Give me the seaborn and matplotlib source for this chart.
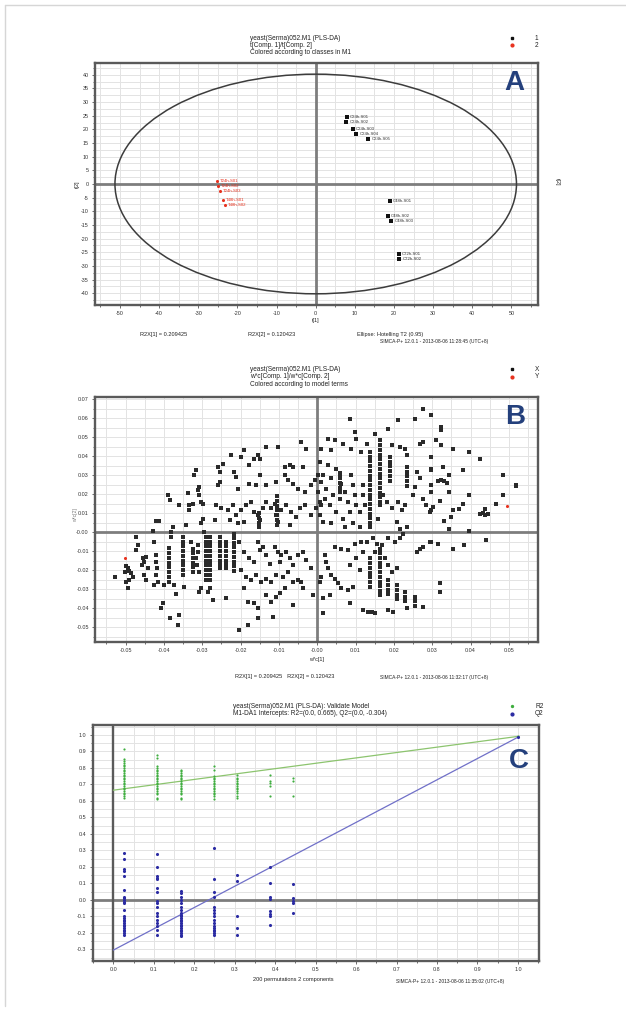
import numpy as np
import pandas as pd
import matplotlib
matplotlib.use("Agg")
import matplotlib.pyplot as plt
from matplotlib.patches import Ellipse
from matplotlib.lines import Line2D
from matplotlib.ticker import MultipleLocator, FormatStrFormatter
import seaborn as sns

sns.set_theme(style="white")
plt.rcParams['font.family'] = ['Liberation Sans', 'DejaVu Sans']

# ---------------- Panel A data (scores t[1] / t[2]) ----------------
A_class1_x = [8.0, 7.8, 9.5, 10.4, 13.4, 18.9, 18.5, 19.3, 21.2, 21.4]
A_class1_y = [24.4, 22.6, 20.2, 18.4, 16.6, -6.2, -11.6, -13.4, -25.6, -27.4]
A_class1_names = ["C24h-S01", "C24h-S02", "C24h-S03", "C24h-S04", "C24h-S05",
                  "C48h-S01", "C48h-S02", "C48h-S03", "C72h-S01", "C72h-S02"]
A_class2_x = [-25.2, -25.0, -24.5, -23.7, -23.2]
A_class2_y = [1.2, -0.6, -2.4, -5.9, -7.7]
A_class2_names = ["T24h-S01", "T24h-S02", "T24h-S03", "T48h-S01", "T48h-S02"]
A_ellipse_rx = 51.3
A_ellipse_ry = 40.2

# ---------------- Panel B data (loadings w*c[1] / w*c[2]) ----------------
B_left = [(-0.0527, -0.0235), (-0.0499, -0.0177), (-0.0495, -0.0191), (-0.0490, -0.0205),
          (-0.0501, -0.0209), (-0.0486, -0.0217), (-0.0482, -0.0235), (-0.0492, -0.0252),
          (-0.0499, -0.0261), (-0.0495, -0.0293), (-0.0473, -0.0024), (-0.0469, -0.0068),
          (-0.0473, -0.0095), (-0.0456, -0.0138), (-0.0451, -0.0156), (-0.0447, -0.0130),
          (-0.0457, -0.0174), (-0.0442, -0.0191), (-0.0451, -0.0226), (-0.0447, -0.0252),
          (-0.0429, 0.0005), (-0.0421, 0.0058), (-0.0412, 0.0058), (-0.0425, -0.0051),
          (-0.0422, -0.0121), (-0.0421, -0.0156), (-0.0419, -0.0191), (-0.0422, -0.0226),
          (-0.0425, -0.0279), (-0.0416, -0.0261), (-0.0408, -0.0402), (-0.0403, -0.0375),
          (-0.0399, -0.0279), (-0.0390, 0.0195), (-0.0384, 0.0168), (-0.0377, 0.0028),
          (-0.0382, 0.0002), (-0.0382, -0.0024), (-0.0384, -0.0454), (-0.0364, -0.0489),
          (-0.0360, -0.0437), (-0.0373, -0.0279), (-0.0369, -0.0328), (-0.0360, 0.0142),
          (-0.0347, -0.0288), (-0.0342, 0.0037), (-0.0338, 0.0204), (-0.0334, 0.0142),
          (-0.0334, 0.0116), (-0.0325, 0.0151), (-0.0321, 0.0300), (-0.0316, 0.0326),
          (-0.0329, -0.0051), (-0.0316, -0.0138), (-0.0312, -0.0103), (-0.0312, -0.0068),
          (-0.0315, -0.0174), (-0.0309, -0.0209), (-0.0312, 0.0221), (-0.0308, 0.0239),
          (-0.0308, 0.0195), (-0.0303, 0.0160), (-0.0299, 0.0151), (-0.0303, 0.0046),
          (-0.0299, 0.0072), (-0.0309, -0.0314), (-0.0303, -0.0296), (-0.0286, -0.0314),
          (-0.0295, 0.0002)]
B_midleft = [(-0.0259, 0.0344), (-0.0255, 0.0318), (-0.0255, 0.0265), (-0.0259, 0.0247),
             (-0.0246, 0.0361), (-0.0224, 0.0405), (-0.0216, 0.0318), (-0.0211, 0.0291),
             (-0.0198, 0.0397), (-0.0190, 0.0432), (-0.0177, 0.0353), (-0.0164, 0.0388),
             (-0.0155, 0.0405), (-0.0150, 0.0388), (-0.0133, 0.0449), (-0.0103, 0.0449),
             (-0.0150, 0.0300), (-0.0207, 0.0230), (-0.0177, 0.0256), (-0.0159, 0.0247),
             (-0.0133, 0.0247), (-0.0107, 0.0265), (-0.0085, 0.0344), (-0.0072, 0.0353),
             (-0.0063, 0.0344), (-0.0037, 0.0344), (-0.0042, 0.0475), (-0.0029, 0.0440),
             (-0.0085, 0.0300), (-0.0077, 0.0274), (-0.0063, 0.0256), (-0.0050, 0.0230),
             (-0.0033, 0.0212), (-0.0016, 0.0247), (-0.0007, 0.0274), (0.0002, 0.0300),
             (0.0011, 0.0265), (-0.0264, 0.0142), (-0.0251, 0.0125), (-0.0233, 0.0116),
             (-0.0220, 0.0142), (-0.0211, 0.0090), (-0.0198, 0.0116), (-0.0185, 0.0142),
             (-0.0172, 0.0160), (-0.0164, 0.0107), (-0.0155, 0.0090), (-0.0150, 0.0063),
             (-0.0142, 0.0125), (-0.0133, 0.0160), (-0.0120, 0.0125), (-0.0111, 0.0151),
             (-0.0107, 0.0090), (-0.0103, 0.0054), (-0.0094, 0.0116), (-0.0081, 0.0142),
             (-0.0068, 0.0107), (-0.0055, 0.0081), (-0.0046, 0.0125), (-0.0033, 0.0142),
             (-0.0016, 0.0090), (-0.0003, 0.0125), (0.0006, 0.0160), (-0.0268, 0.0063),
             (-0.0229, 0.0063), (-0.0207, 0.0046), (-0.0190, 0.0054), (-0.0072, 0.0037)]
B_midleft_low = [(-0.0203, -0.0051), (-0.0190, -0.0103), (-0.0177, -0.0138), (-0.0164, -0.0156),
                 (-0.0155, -0.0051), (-0.0150, -0.0095), (-0.0142, -0.0077), (-0.0133, -0.0121),
                 (-0.0124, -0.0165), (-0.0111, -0.0077), (-0.0103, -0.0103), (-0.0098, -0.0156),
                 (-0.0094, -0.0121), (-0.0081, -0.0103), (-0.0072, -0.0138), (-0.0063, -0.0174),
                 (-0.0050, -0.0121), (-0.0037, -0.0103), (-0.0029, -0.0147), (-0.0016, -0.0191),
                 (-0.0198, -0.0200), (-0.0185, -0.0235), (-0.0172, -0.0252), (-0.0159, -0.0226),
                 (-0.0146, -0.0261), (-0.0133, -0.0244), (-0.0120, -0.0261), (-0.0107, -0.0226),
                 (-0.0090, -0.0235), (-0.0077, -0.0209), (-0.0063, -0.0261), (-0.0050, -0.0252),
                 (-0.0037, -0.0296), (-0.0281, -0.0296), (-0.0272, -0.0358), (-0.0237, -0.0349),
                 (-0.0190, -0.0296), (-0.0181, -0.0366), (-0.0164, -0.0375), (-0.0155, -0.0402),
                 (-0.0133, -0.0331), (-0.0120, -0.0366), (-0.0107, -0.0340), (-0.0098, -0.0323),
                 (-0.0085, -0.0296), (-0.0063, -0.0384), (-0.0042, -0.0261), (-0.0011, -0.0331),
                 (-0.0203, -0.0516), (-0.0181, -0.0489), (-0.0155, -0.0454), (-0.0116, -0.0445)]
B_center = [(0.0085, 0.0595), (0.0098, 0.0528), (0.0102, 0.0493), (0.0129, 0.0467),
            (0.0150, 0.0519), (0.0185, 0.0546), (0.0211, 0.0589), (0.0255, 0.0595),
            (0.0276, 0.0651), (0.0068, 0.0467), (0.0046, 0.0484), (0.0028, 0.0493),
            (0.0037, 0.0432), (0.0011, 0.0440), (0.0089, 0.0440), (0.0115, 0.0423),
            (0.0194, 0.0458), (0.0216, 0.0449), (0.0229, 0.0440), (0.0233, 0.0405),
            (0.0268, 0.0467), (0.0276, 0.0475), (0.0298, 0.0335), (0.0007, 0.0370),
            (0.0015, 0.0300), (0.0028, 0.0353), (0.0024, 0.0230), (0.0037, 0.0283),
            (0.0042, 0.0195), (0.0050, 0.0335), (0.0059, 0.0309), (0.0063, 0.0256),
            (0.0059, 0.0177), (0.0072, 0.0212), (0.0081, 0.0160), (0.0089, 0.0300),
            (0.0094, 0.0247), (0.0098, 0.0195), (0.0102, 0.0142), (0.0111, 0.0107),
            (0.0085, 0.0107), (0.0068, 0.0072), (0.0050, 0.0107), (0.0033, 0.0142),
            (0.0020, 0.0177), (0.0011, 0.0142), (0.0002, 0.0212), (0.0007, 0.0090),
            (0.0015, 0.0054), (0.0037, 0.0046), (0.0072, 0.0028), (0.0094, 0.0046),
            (0.0111, 0.0028), (0.0120, 0.0195), (0.0120, 0.0247), (0.0124, 0.0142),
            (0.0159, 0.0072), (0.0172, 0.0195), (0.0181, 0.0160), (0.0194, 0.0125),
            (0.0211, 0.0160), (0.0220, 0.0116), (0.0229, 0.0142), (0.0250, 0.0195),
            (0.0255, 0.0239), (0.0259, 0.0318), (0.0268, 0.0283), (0.0276, 0.0177),
            (0.0285, 0.0142), (0.0298, 0.0212), (0.0298, 0.0116), (0.0207, 0.0054),
            (0.0216, 0.0019), (0.0233, 0.0028)]
B_center_low = [(0.0020, -0.0121), (0.0024, -0.0156), (0.0028, -0.0191), (0.0037, -0.0226),
                (0.0011, -0.0235), (0.0007, -0.0261), (0.0046, -0.0244), (0.0055, -0.0270),
                (0.0063, -0.0296), (0.0081, -0.0305), (0.0094, -0.0288), (0.0015, -0.0349),
                (0.0033, -0.0331), (0.0085, -0.0375), (0.0015, -0.0428), (0.0046, -0.0077),
                (0.0063, -0.0086), (0.0081, -0.0095), (0.0098, -0.0060), (0.0115, -0.0051),
                (0.0120, -0.0103), (0.0129, -0.0051), (0.0146, -0.0033), (0.0155, -0.0060),
                (0.0168, -0.0068), (0.0185, -0.0033), (0.0202, -0.0051), (0.0216, -0.0033),
                (0.0224, -0.0007), (0.0150, -0.0103), (0.0176, -0.0138), (0.0185, -0.0174),
                (0.0194, -0.0209), (0.0207, -0.0191), (0.0085, -0.0174), (0.0102, -0.0138),
                (0.0111, -0.0200), (0.0276, -0.0393), (0.0120, -0.0410), (0.0133, -0.0423),
                (0.0142, -0.0423), (0.0150, -0.0428), (0.0185, -0.0410), (0.0198, -0.0419),
                (0.0233, -0.0402), (0.0276, -0.0077), (0.0259, -0.0103), (0.0294, -0.0051),
                (0.0268, -0.0086)]
B_right = [(0.0297, 0.0616), (0.0324, 0.0554), (0.0324, 0.0537), (0.0310, 0.0484),
           (0.0324, 0.0458), (0.0354, 0.0440), (0.0397, 0.0423), (0.0424, 0.0388),
           (0.0297, 0.0397), (0.0297, 0.0326), (0.0328, 0.0344), (0.0345, 0.0300),
           (0.0380, 0.0326), (0.0315, 0.0268), (0.0324, 0.0274), (0.0332, 0.0268),
           (0.0339, 0.0261), (0.0297, 0.0247), (0.0345, 0.0212), (0.0397, 0.0198),
           (0.0484, 0.0300), (0.0519, 0.0251), (0.0519, 0.0244), (0.0484, 0.0195),
           (0.0467, 0.0146), (0.0319, 0.0163), (0.0302, 0.0133), (0.0293, 0.0107),
           (0.0371, 0.0121), (0.0380, 0.0151), (0.0354, 0.0116), (0.0350, 0.0081),
           (0.0332, 0.0058), (0.0437, 0.0121), (0.0432, 0.0103), (0.0424, 0.0098),
           (0.0445, 0.0098), (0.0437, 0.0090), (0.0397, 0.0005), (0.0345, 0.0019),
           (0.0297, -0.0051), (0.0315, -0.0060), (0.0354, -0.0089), (0.0384, -0.0065),
           (0.0441, -0.0042), (0.0319, -0.0270), (0.0319, -0.0314)]
# vertical runs of variables sharing the same w*c[1]
B_stripe_x = [-0.0386, -0.0351, -0.0325, -0.0290, -0.0281, -0.0255, -0.0237, -0.0216,
              -0.0152, -0.0105, 0.0059, 0.0137, 0.0163, 0.0189, 0.0233,
              0.0137, 0.0163, 0.0185, 0.0207, 0.0229, 0.0255]
B_stripe_y = [
    [-0.0085, -0.0110, -0.0135, -0.0160, -0.0185, -0.0210, -0.0235, -0.0260],
    [-0.0024, -0.0050, -0.0075, -0.0100, -0.0125, -0.0150, -0.0175, -0.0200, -0.0226],
    [-0.0086, -0.0110, -0.0135, -0.0160, -0.0185, -0.0210],
    [-0.0024, -0.0050, -0.0075, -0.0100, -0.0125, -0.0150, -0.0175, -0.0200, -0.0225, -0.0250],
    [-0.0024, -0.0050, -0.0075, -0.0100, -0.0125, -0.0150, -0.0175, -0.0200, -0.0225, -0.0250],
    [-0.0024, -0.0050, -0.0075, -0.0100, -0.0125, -0.0150, -0.0175, -0.0190],
    [-0.0051, -0.0075, -0.0100, -0.0125, -0.0150, -0.0175, -0.0190],
    [-0.0007, -0.0030, -0.0055, -0.0080, -0.0105, -0.0130, -0.0155, -0.0180, -0.0205],
    [0.0100, 0.0075, 0.0050, 0.0025],
    [0.0190, 0.0165, 0.0140, 0.0115, 0.0090, 0.0065, 0.0040],
    [0.0310, 0.0285, 0.0260, 0.0235, 0.0210],
    [0.0423, 0.0398, 0.0373, 0.0348, 0.0323, 0.0298, 0.0273, 0.0248, 0.0223, 0.0198,
     0.0173, 0.0148, 0.0123, 0.0098, 0.0073, 0.0048, 0.0028],
    [0.0484, 0.0459, 0.0434, 0.0409, 0.0384, 0.0359, 0.0334, 0.0309, 0.0284, 0.0259,
     0.0234, 0.0209, 0.0184, 0.0159, 0.0142],
    [0.0397, 0.0372, 0.0347, 0.0322, 0.0297, 0.0272],
    [0.0344, 0.0319, 0.0294, 0.0269, 0.0244],
    [-0.0138, -0.0163, -0.0188, -0.0213, -0.0238, -0.0263, -0.0288],
    [-0.0086, -0.0111, -0.0136, -0.0161, -0.0186, -0.0211, -0.0236, -0.0261, -0.0286,
     -0.0311, -0.0331],
    [-0.0252, -0.0277, -0.0302, -0.0327],
    [-0.0279, -0.0304, -0.0329, -0.0354],
    [-0.0314, -0.0339, -0.0364],
    [-0.0340, -0.0365, -0.0390],
]
B_Y_x = [-0.0503, 0.0496]
B_Y_y = [-0.0135, 0.0139]

# ---------------- Panel C data (permutation test) ----------------
C_perm_x = [0.027, 0.109, 0.166, 0.249, 0.305, 0.388, 0.443]
C_R2 = [
    [0.917, 0.853, 0.84, 0.83, 0.82, 0.81, 0.80, 0.79, 0.78, 0.77, 0.76, 0.75, 0.74, 0.73,
     0.72, 0.71, 0.70, 0.69, 0.68, 0.67, 0.66, 0.65, 0.64, 0.63, 0.62],
    [0.877, 0.860, 0.81, 0.80, 0.79, 0.78, 0.77, 0.76, 0.75, 0.74, 0.73, 0.72, 0.71, 0.70,
     0.69, 0.68, 0.67, 0.66, 0.65, 0.64, 0.62, 0.61],
    [0.79, 0.78, 0.77, 0.76, 0.75, 0.74, 0.73, 0.72, 0.71, 0.70, 0.69, 0.68, 0.67, 0.66,
     0.65, 0.64, 0.62, 0.61],
    [0.81, 0.79, 0.75, 0.74, 0.73, 0.72, 0.71, 0.70, 0.69, 0.68, 0.67, 0.66, 0.65, 0.64,
     0.63, 0.61],
    [0.76, 0.74, 0.73, 0.72, 0.71, 0.70, 0.69, 0.68, 0.67, 0.66, 0.65, 0.63, 0.62],
    [0.76, 0.72, 0.71, 0.69, 0.63],
    [0.74, 0.72, 0.63],
]
C_Q2 = [
    [0.287, 0.246, 0.186, 0.176, 0.145, 0.06, 0.02, 0.01, 0.0, -0.01, -0.02, -0.06, -0.10,
     -0.11, -0.12, -0.13, -0.14, -0.15, -0.16, -0.17, -0.18, -0.19, -0.20, -0.21],
    [0.277, 0.20, 0.145, 0.135, 0.125, 0.07, 0.05, -0.004, -0.02, -0.04, -0.08, -0.10,
     -0.12, -0.14, -0.16, -0.18, -0.21],
    [0.057, 0.04, 0.02, 0.0, -0.02, -0.04, -0.06, -0.08, -0.09, -0.10, -0.11, -0.12, -0.13,
     -0.14, -0.15, -0.16, -0.17, -0.18, -0.19, -0.20, -0.21, -0.22],
    [0.313, 0.125, 0.05, 0.016, -0.04, -0.06, -0.08, -0.10, -0.12, -0.14, -0.16, -0.17,
     -0.18, -0.19, -0.20, -0.21],
    [0.15, 0.117, -0.10, -0.17, -0.21],
    [0.198, 0.10, 0.02, 0.004, -0.065, -0.085, -0.10, -0.15],
    [0.095, 0.01, -0.005, -0.016, -0.077],
]
C_orig_x = 1.0
C_R2_orig = 0.991
C_Q2_orig = 0.986
C_R2_intercept = 0.665
C_Q2_intercept = -0.304

# ---------------- figure ----------------
W, H = 626, 1011
fig = plt.figure(figsize=(W / 100, H / 100), dpi=100)


def fx(x):
    return x / W


def fy(y):
    return 1 - y / H


def add_axes(l, t, r, b):
    return fig.add_axes([fx(l), fy(b), (r - l) / W, (b - t) / H])


def style(ax, xlim, ylim, xmaj, xmin, ymaj, ymin, xfmt, yfmt):
    ax.set_xlim(*xlim)
    ax.set_ylim(*ylim)
    ax.xaxis.set_major_locator(MultipleLocator(xmaj))
    ax.xaxis.set_minor_locator(MultipleLocator(xmin))
    ax.yaxis.set_major_locator(MultipleLocator(ymaj))
    ax.yaxis.set_minor_locator(MultipleLocator(ymin))
    ax.xaxis.set_major_formatter(FormatStrFormatter(xfmt))
    ax.yaxis.set_major_formatter(FormatStrFormatter(yfmt))
    ax.grid(which='both', color='#e3e3e3', lw=0.7)
    ax.set_axisbelow(True)
    for s in ax.spines.values():
        s.set_color('#5a5a5a')
        s.set_linewidth(1.7)
    ax.tick_params(which='both', direction='out', labelsize=3.9, color='#555555',
                   labelcolor='#333333', width=0.6, pad=2, bottom=True, left=True)
    ax.tick_params(which='major', length=2.4)
    ax.tick_params(which='minor', length=1.4)
    ax.set_xlabel('')
    ax.set_ylabel('')


def txt(x, y, s, size=4.7, **kw):
    fig.text(fx(x), fy(y), s, fontsize=size, color='#222222', **kw)


def legend_mark(x, y, marker, color, ms):
    fig.add_artist(Line2D([fx(x)], [fy(y)], marker=marker, color=color, ms=ms,
                          ls='none', transform=fig.transFigure))


# outer frame lines
fig.add_artist(Line2D([fx(5), fx(626)], [fy(5), fy(5)], color='#d6d6d6', lw=1.0,
                      transform=fig.transFigure))
fig.add_artist(Line2D([fx(5), fx(5)], [fy(5), fy(1006)], color='#d6d6d6', lw=1.0,
                      transform=fig.transFigure))

# ================= Panel A =================
axA = add_axes(95, 62.7, 538, 305)
style(axA, (-56.4, 56.8), (-44.3, 44.4), 10, 5, 5, 2.5, '%d', '%d')
axA.axhline(0, color='#7d7d7d', lw=2.0, zorder=1.5)
axA.axvline(0, color='#7d7d7d', lw=2.0, zorder=1.5)
axA.add_patch(Ellipse((0, 0), 2 * A_ellipse_rx, 2 * A_ellipse_ry, fill=False,
                      ec='#3c3c3c', lw=1.1, zorder=2))
sns.scatterplot(x=A_class1_x, y=A_class1_y, ax=axA, color='#111111', marker='s', s=5,
                linewidth=0, legend=False, zorder=3)
sns.scatterplot(x=A_class2_x, y=A_class2_y, ax=axA, color='#e8321e', marker='o', s=5,
                linewidth=0, legend=False, zorder=3)
for x, y, n in zip(A_class1_x, A_class1_y, A_class1_names):
    axA.text(x + 0.8, y, n, fontsize=3.1, color='#333333', va='center', zorder=4)
for x, y, n in zip(A_class2_x, A_class2_y, A_class2_names):
    axA.text(x + 0.8, y, n, fontsize=3.1, color='#e8321e', va='center', zorder=4)

txt(250, 38.3, 'yeast(Serma)052.M1 (PLS-DA)', va='center')
txt(250, 45.3, 't[Comp. 1]/t[Comp. 2]', va='center')
txt(250, 52.5, 'Colored according to classes in M1', va='center')
legend_mark(511.5, 38.3, 's', '#111111', 2.0)
legend_mark(511.5, 45.3, 'o', '#e8321e', 2.0)
txt(535, 38.3, '1', va='center')
txt(535, 45.3, '2', va='center')
txt(316, 320.5, 't[1]', ha='center', va='center', size=4.0)
txt(77, 184, 't[2]', ha='center', va='center', size=4.0, rotation=90)
txt(557, 182, 't[2]', ha='center', va='center', size=4.0, rotation=270)
txt(140, 334.5, 'R2X[1] = 0.209425', va='center', size=4.1)
txt(248, 334.5, 'R2X[2] = 0.120423', va='center', size=4.1)
txt(357, 334.5, 'Ellipse: Hotelling T2 (0.95)', va='center', size=4.1)
txt(380, 342, 'SIMCA-P+ 12.0.1 - 2013-08-06 11:28:45 (UTC+8)', va='center', size=3.5)
fig.text(fx(514), fy(83), 'A', fontsize=20, fontweight='bold', color='#24407c',
         ha='center', va='center')

# ================= Panel B =================
axB = add_axes(95, 396.7, 538, 641.7)
style(axB, (-0.058, 0.0576), (-0.0577, 0.0714), 0.01, 0.005, 0.01, 0.005, '%.2f', '%.2f')
axB.axhline(0, color='#7d7d7d', lw=2.0, zorder=1.5)
axB.axvline(0, color='#7d7d7d', lw=2.0, zorder=1.5)
pts = B_left + B_midleft + B_midleft_low + B_center + B_center_low + B_right
bx = [p[0] for p in pts]
by = [p[1] for p in pts]
for sx, sy in zip(B_stripe_x, B_stripe_y):
    bx += [sx] * len(sy)
    by += list(sy)
dfB = pd.DataFrame({'wc1': bx, 'wc2': by})
sns.scatterplot(data=dfB, x='wc1', y='wc2', ax=axB, color='#2a2a2a', marker='s', s=5,
                linewidth=0, legend=False, zorder=3)
sns.scatterplot(x=B_Y_x, y=B_Y_y, ax=axB, color='#e8321e', marker='o', s=5,
                linewidth=0, legend=False, zorder=4)
axB.set_xlabel('')
axB.set_ylabel('')
txt(250, 369.3, 'yeast(Serma)052.M1 (PLS-DA)', va='center')
txt(250, 376.7, 'w*c[Comp. 1]/w*c[Comp. 2]', va='center')
txt(250, 384.3, 'Colored according to model terms', va='center')
legend_mark(511.5, 369.3, 's', '#111111', 2.0)
legend_mark(511.5, 376.7, 'o', '#e8321e', 2.0)
txt(535, 369.3, 'X', va='center')
txt(535, 376.7, 'Y', va='center')
txt(317, 659, 'w*c[1]', ha='center', va='center', size=4.0)
txt(76, 515, 'w*c[2]', ha='center', va='center', size=3.6, rotation=90, alpha=0.6)
txt(235, 676.5, 'R2X[1] = 0.209425   R2X[2] = 0.120423', va='center', size=4.1)
txt(380, 677.5, 'SIMCA-P+ 12.0.1 - 2013-08-06 11:32:17 (UTC+8)', va='center', size=3.5)
fig.text(fx(515), fy(417), 'B', fontsize=20, fontweight='bold', color='#24407c',
         ha='center', va='center')

# ================= Panel C =================
axC = add_axes(92.7, 725, 539, 961)
style(axC, (-0.051, 1.052), (-0.37, 1.06), 0.1, 0.05, 0.1, 0.05, '%.1f', '%.1f')
axC.axhline(0, color='#7d7d7d', lw=2.0, zorder=1.5)
axC.axvline(0, color='#5a5a5a', lw=1.7, zorder=1.5)
rx, ry, qx, qy = [], [], [], []
for x, r2s, q2s in zip(C_perm_x, C_R2, C_Q2):
    rx += [x] * len(r2s)
    ry += r2s
    qx += [x] * len(q2s)
    qy += q2s
rx.append(C_orig_x); ry.append(C_R2_orig)
qx.append(C_orig_x); qy.append(C_Q2_orig)
sns.lineplot(x=[0.0, C_orig_x], y=[C_R2_intercept, C_R2_orig], ax=axC, color='#8cc46e',
             lw=0.9, zorder=2)
sns.lineplot(x=[0.0, C_orig_x], y=[C_Q2_intercept, C_Q2_orig], ax=axC, color='#7070c8',
             lw=0.9, zorder=2)
sns.scatterplot(x=rx, y=ry, ax=axC, color='#3fae3f', marker='o', s=2.5, linewidth=0,
                legend=False, zorder=3)
sns.scatterplot(x=qx, y=qy, ax=axC, color='#2b2ba3', marker='o', s=5, linewidth=0,
                legend=False, zorder=3)
axC.set_xlabel('')
axC.set_ylabel('')
txt(233, 706, 'yeast(Serma)052.M1 (PLS-DA): Validate Model', va='center')
txt(233, 713.5, 'M1-DA1 Intercepts: R2=(0.0, 0.665), Q2=(0.0, -0.304)', va='center')
legend_mark(511.5, 706, 'o', '#3fae3f', 1.4)
legend_mark(511.5, 713.5, 'o', '#2b2ba3', 2.0)
txt(535, 706, 'R2', va='center')
txt(535, 713.5, 'Q2', va='center')
txt(253, 980, '200 permutations 2 components', va='center', size=4.1)
txt(396, 981, 'SIMCA-P+ 12.0.1 - 2013-08-06 11:35:02 (UTC+8)', va='center', size=3.5)
fig.text(fx(519), fy(761), 'C', fontsize=20, fontweight='bold', color='#24407c',
         ha='center', va='center')

fig.savefig('out.png', dpi=100)
